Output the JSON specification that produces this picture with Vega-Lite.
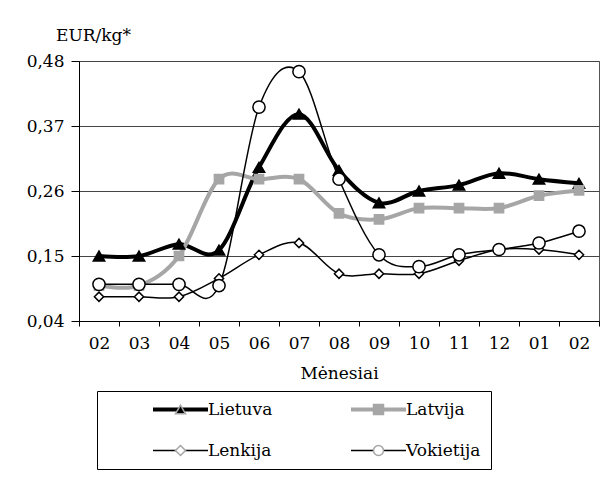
{
  "$schema": "https://vega.github.io/schema/vega-lite/v6.json",
  "width": 520,
  "height": 260,
  "autosize": {"type": "none"},
  "padding": {"left": 79, "top": 61, "right": 16, "bottom": 164},
  "background": "white",
  "data": {
    "values": [
      {"menuo": "02", "salis": "Lietuva", "kaina": 0.15},
      {"menuo": "03", "salis": "Lietuva", "kaina": 0.15},
      {"menuo": "04", "salis": "Lietuva", "kaina": 0.17},
      {"menuo": "05", "salis": "Lietuva", "kaina": 0.16},
      {"menuo": "06", "salis": "Lietuva", "kaina": 0.30},
      {"menuo": "07", "salis": "Lietuva", "kaina": 0.39},
      {"menuo": "08", "salis": "Lietuva", "kaina": 0.295},
      {"menuo": "09", "salis": "Lietuva", "kaina": 0.24},
      {"menuo": "10", "salis": "Lietuva", "kaina": 0.26},
      {"menuo": "11", "salis": "Lietuva", "kaina": 0.27},
      {"menuo": "12", "salis": "Lietuva", "kaina": 0.29},
      {"menuo": "01", "salis": "Lietuva", "kaina": 0.28},
      {"menuo": "02 ", "salis": "Lietuva", "kaina": 0.273},
      {"menuo": "02", "salis": "Latvija", "kaina": 0.10},
      {"menuo": "03", "salis": "Latvija", "kaina": 0.10},
      {"menuo": "04", "salis": "Latvija", "kaina": 0.15},
      {"menuo": "05", "salis": "Latvija", "kaina": 0.28},
      {"menuo": "06", "salis": "Latvija", "kaina": 0.28},
      {"menuo": "07", "salis": "Latvija", "kaina": 0.28},
      {"menuo": "08", "salis": "Latvija", "kaina": 0.222},
      {"menuo": "09", "salis": "Latvija", "kaina": 0.212},
      {"menuo": "10", "salis": "Latvija", "kaina": 0.231},
      {"menuo": "11", "salis": "Latvija", "kaina": 0.231},
      {"menuo": "12", "salis": "Latvija", "kaina": 0.231},
      {"menuo": "01", "salis": "Latvija", "kaina": 0.252},
      {"menuo": "02 ", "salis": "Latvija", "kaina": 0.261},
      {"menuo": "02", "salis": "Lenkija", "kaina": 0.081},
      {"menuo": "03", "salis": "Lenkija", "kaina": 0.081},
      {"menuo": "04", "salis": "Lenkija", "kaina": 0.081},
      {"menuo": "05", "salis": "Lenkija", "kaina": 0.112},
      {"menuo": "06", "salis": "Lenkija", "kaina": 0.152},
      {"menuo": "07", "salis": "Lenkija", "kaina": 0.172},
      {"menuo": "08", "salis": "Lenkija", "kaina": 0.12},
      {"menuo": "09", "salis": "Lenkija", "kaina": 0.12},
      {"menuo": "10", "salis": "Lenkija", "kaina": 0.12},
      {"menuo": "11", "salis": "Lenkija", "kaina": 0.142},
      {"menuo": "12", "salis": "Lenkija", "kaina": 0.161},
      {"menuo": "01", "salis": "Lenkija", "kaina": 0.161},
      {"menuo": "02 ", "salis": "Lenkija", "kaina": 0.152},
      {"menuo": "02", "salis": "Vokietija", "kaina": 0.102},
      {"menuo": "03", "salis": "Vokietija", "kaina": 0.102},
      {"menuo": "04", "salis": "Vokietija", "kaina": 0.102},
      {"menuo": "05", "salis": "Vokietija", "kaina": 0.10},
      {"menuo": "06", "salis": "Vokietija", "kaina": 0.402},
      {"menuo": "07", "salis": "Vokietija", "kaina": 0.462},
      {"menuo": "08", "salis": "Vokietija", "kaina": 0.28},
      {"menuo": "09", "salis": "Vokietija", "kaina": 0.152},
      {"menuo": "10", "salis": "Vokietija", "kaina": 0.132},
      {"menuo": "11", "salis": "Vokietija", "kaina": 0.152},
      {"menuo": "12", "salis": "Vokietija", "kaina": 0.161},
      {"menuo": "01", "salis": "Vokietija", "kaina": 0.172},
      {"menuo": "02 ", "salis": "Vokietija", "kaina": 0.192}
    ]
  },
  "encoding": {
    "x": {
      "field": "menuo",
      "type": "ordinal",
      "sort": null,
      "scale": {"type": "band", "paddingInner": 0, "paddingOuter": 0},
      "axis": {
        "title": "Mėnesiai",
        "labelExpr": "datum.value ? trim(datum.value) : ''",
        "labelAngle": 0,
        "tickBand": "extent",
        "tickSize": 5,
        "tickColor": "black",
        "domainColor": "black",
        "labelPadding": 9,
        "labelFontSize": 17,
        "labelColor": "black",
        "titleFontSize": 17,
        "titleFontWeight": "normal",
        "titleColor": "black",
        "titleY": 52,
        "titleBaseline": "middle",
        "grid": false
      }
    },
    "y": {
      "field": "kaina",
      "type": "quantitative",
      "scale": {"domain": [0.04, 0.48], "nice": false, "zero": false},
      "axis": {
        "title": "EUR/kg*",
        "values": [0.04, 0.15, 0.26, 0.37, 0.48],
        "labelExpr": "replace(format(datum.value, '.2f'), '.', ',')",
        "grid": true,
        "gridColor": "#444444",
        "gridWidth": 1,
        "gridOpacity": 1,
        "tickSize": 8,
        "tickColor": "black",
        "domainColor": "black",
        "labelPadding": 7,
        "labelFontSize": 17,
        "labelColor": "black",
        "titleFontSize": 17,
        "titleFontWeight": "normal",
        "titleColor": "black",
        "titleAngle": 0,
        "titleAlign": "center",
        "titleBaseline": "middle",
        "titleX": 14,
        "titleY": -26
      }
    },
    "stroke": {
      "field": "salis",
      "type": "nominal",
      "sort": ["Lietuva", "Latvija", "Lenkija", "Vokietija"],
      "scale": {"range": ["black", "#a6a6a6", "black", "black"]},
      "legend": {
        "orient": "none",
        "legendX": 18,
        "legendY": 330,
        "columns": 2,
        "direction": "horizontal",
        "title": null,
        "strokeColor": "black",
        "fillColor": "white",
        "padding": 10,
        "symbolType": "stroke",
        "symbolSize": 3025,
        "symbolStrokeWidth": 1.5,
        "symbolOffset": 65,
        "labelOffset": 19,
        "clipHeight": 17,
        "rowPadding": 23,
        "columnPadding": 32,
        "gridAlign": "each",
        "labelFontSize": 17,
        "labelColor": "black",
        "labelBaseline": "middle",
        "labelExpr": "datum.label + '\u00a0\u00a0\u00a0\u00a0\u00a0\u00a0\u00a0\u00a0\u00a0'",
        "encode": {
          "symbols": {
            "update": {
              "strokeWidth": {"signal": "datum.value === 'Lietuva' || datum.value === 'Latvija' ? 4 : 1.5"},
              "opacity": {"value": 1}
            }
          }
        }
      }
    }
  },
  "layer": [
    {
      "mark": {"type": "line", "interpolate": "cardinal"},
      "encoding": {
        "strokeWidth": {
          "condition": {"test": "datum.salis === 'Lietuva' || datum.salis === 'Latvija'", "value": 4},
          "value": 1.5
        }
      }
    },
    {
      "mark": {"type": "point", "filled": true, "opacity": 1},
      "encoding": {
        "stroke": {
          "condition": [{"test": "datum.salis !== 'Latvija'", "value": "black"}],
          "value": "#a6a6a6"
        },
        "shape": {
          "field": "salis",
          "type": "nominal",
          "scale": {
            "domain": ["Lietuva", "Latvija", "Lenkija", "Vokietija"],
            "range": ["triangle-up", "square", "diamond", "circle"]
          },
          "legend": {
            "orient": "none",
            "legendX": 18,
            "legendY": 330,
            "columns": 2,
            "direction": "horizontal",
            "title": null,
            "padding": 10,
            "symbolSize": 100,
            "symbolStrokeWidth": 1.5,
            "symbolOffset": 65,
            "labelOffset": 19,
            "clipHeight": 17,
            "rowPadding": 23,
            "columnPadding": 32,
            "gridAlign": "each",
            "labelFontSize": 17,
            "labelOpacity": 0,
            "labelBaseline": "middle",
            "labelExpr": "datum.label + '\u00a0\u00a0\u00a0\u00a0\u00a0\u00a0\u00a0\u00a0\u00a0'"
          }
        },
        "fill": {
          "field": "salis",
          "type": "nominal",
          "scale": {
            "domain": ["Lietuva", "Latvija", "Lenkija", "Vokietija"],
            "range": ["black", "#a6a6a6", "white", "white"]
          },
          "legend": {
            "orient": "none",
            "legendX": 18,
            "legendY": 330,
            "columns": 2,
            "direction": "horizontal",
            "title": null,
            "padding": 10,
            "symbolSize": 100,
            "symbolStrokeWidth": 1.5,
            "symbolOffset": 65,
            "labelOffset": 19,
            "clipHeight": 17,
            "rowPadding": 23,
            "columnPadding": 32,
            "gridAlign": "each",
            "labelFontSize": 17,
            "labelOpacity": 0,
            "labelBaseline": "middle",
            "labelExpr": "datum.label + '\u00a0\u00a0\u00a0\u00a0\u00a0\u00a0\u00a0\u00a0\u00a0'"
          }
        },
        "size": {
          "condition": [
            {"test": "datum.salis === 'Vokietija'", "value": 150},
            {"test": "datum.salis === 'Lietuva'", "value": 130}
          ],
          "value": 85
        },
        "strokeWidth": {"value": 1.5}
      }
    }
  ],
  "config": {
    "font": "DejaVu Serif, Liberation Serif, Times New Roman, serif",
    "view": {"stroke": "#555555", "strokeWidth": 1}
  }
}
